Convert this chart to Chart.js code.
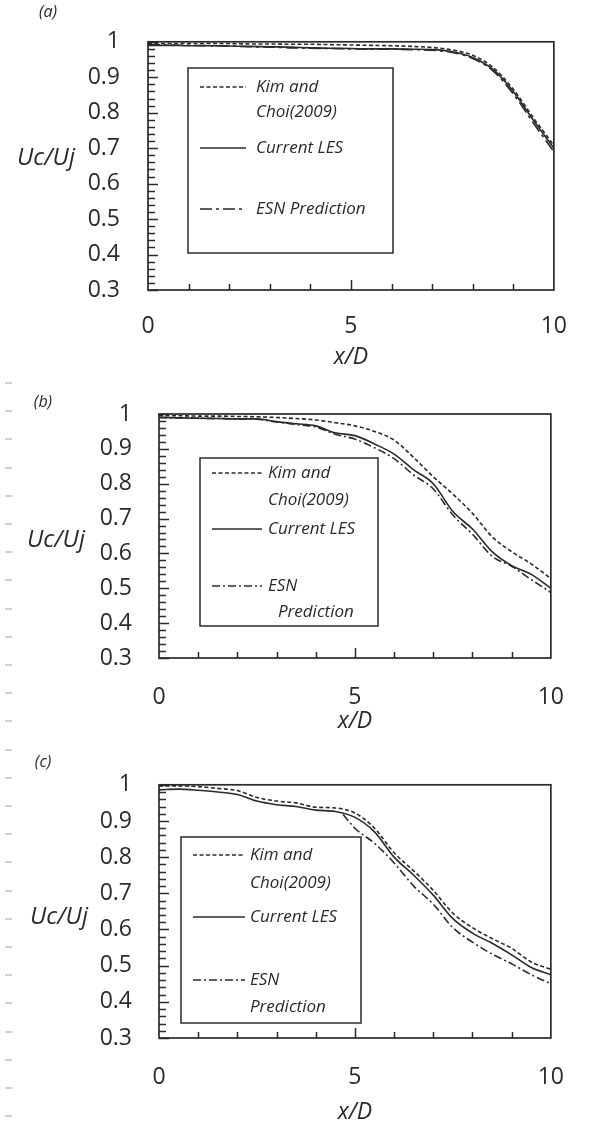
<!DOCTYPE html>
<html>
<head>
<meta charset="utf-8">
<script src="https://cdn.jsdelivr.net/npm/chart.js@4.4.0/dist/chart.umd.min.js"></script>
<style>
  body { margin: 0; background: #fff; width: 590px; height: 1128px; position: relative; overflow: hidden; }
  canvas { position: absolute; left: 0; }
  #margin { position: absolute; left: 5px; top: 382px; width: 7px; height: 740px;
    background: repeating-linear-gradient(to bottom, #d0d0d0 0 2px, transparent 2px 28.2px); }
</style>
</head>
<body>
<div id="margin"></div>
<canvas id="pa" width="590" height="372" style="top:0"></canvas>
<canvas id="pb" width="590" height="372" style="top:372px"></canvas>
<canvas id="pc" width="590" height="384" style="top:744px"></canvas>
<script>
// axis ticks
var yTicks = [0.3, 0.4, 0.5, 0.6, 0.7, 0.8, 0.9, 1];
var xLabelTicks = [0, 5, 10];
var xMinorTicks = [1, 2, 3, 4, 5, 6, 7, 8, 9];

var seriesNames = ["Kim and Choi(2009)", "Current LES", "ESN Prediction"];

// streamwise stations x/D
var xs = [0, 0.5, 1, 1.5, 2, 2.5, 3, 3.5, 4, 4.5, 5, 5.5, 6, 6.5, 7, 7.5, 8, 8.5, 9, 9.5, 10];

// (a)
var kimA = [0.995, 0.995, 0.995, 0.995, 0.995, 0.994, 0.994, 0.993, 0.993, 0.992, 0.991, 0.990, 0.989, 0.987, 0.984, 0.977, 0.962, 0.928, 0.866, 0.785, 0.708];
var lesA = [0.990, 0.990, 0.989, 0.989, 0.988, 0.987, 0.986, 0.985, 0.983, 0.982, 0.981, 0.980, 0.980, 0.979, 0.978, 0.972, 0.956, 0.922, 0.860, 0.778, 0.700];
var esnA = [0.992, 0.991, 0.990, 0.989, 0.988, 0.986, 0.985, 0.983, 0.982, 0.981, 0.980, 0.979, 0.979, 0.978, 0.976, 0.970, 0.953, 0.918, 0.853, 0.770, 0.690];

// (b)
var kimB = [0.995, 0.995, 0.994, 0.994, 0.993, 0.992, 0.990, 0.987, 0.983, 0.975, 0.966, 0.950, 0.925, 0.875, 0.820, 0.770, 0.715, 0.648, 0.605, 0.570, 0.528];
var lesB = [0.990, 0.989, 0.988, 0.987, 0.986, 0.986, 0.978, 0.972, 0.966, 0.946, 0.938, 0.914, 0.885, 0.840, 0.800, 0.720, 0.670, 0.605, 0.565, 0.540, 0.500];
var esnB = [0.990, 0.989, 0.988, 0.987, 0.986, 0.985, 0.977, 0.970, 0.963, 0.942, 0.928, 0.903, 0.872, 0.825, 0.785, 0.710, 0.655, 0.592, 0.563, 0.525, 0.488];

// (c)
var kimC = [0.997, 0.997, 0.995, 0.990, 0.984, 0.965, 0.955, 0.950, 0.938, 0.936, 0.922, 0.880, 0.812, 0.762, 0.708, 0.645, 0.605, 0.575, 0.548, 0.510, 0.490];
var lesC = [0.986, 0.988, 0.985, 0.980, 0.973, 0.955, 0.945, 0.940, 0.930, 0.926, 0.910, 0.870, 0.800, 0.750, 0.695, 0.630, 0.590, 0.562, 0.530, 0.495, 0.475];
var xsEsnC = [4.7, 5, 5.5, 6, 6.5, 7, 7.5, 8, 8.5, 9, 9.5, 10];
var esnC = [0.918, 0.880, 0.838, 0.784, 0.720, 0.670, 0.605, 0.565, 0.532, 0.505, 0.475, 0.450];

var ink = "#2a2a2a";
Chart.defaults.font.family = "'Open Sans', sans-serif";
Chart.defaults.color = ink;

function pts(x, y) {
  return x.map(function (v, i) { return { x: v, y: y[i] }; });
}

// frame, inward ticks, legend box and side labels
var framePlugin = {
  id: "frame",
  afterDraw: function (chart, args, o) {
    var ctx = chart.ctx, a = chart.chartArea;
    var sx = chart.scales.x, sy = chart.scales.y;
    ctx.save();
    ctx.strokeStyle = ink;
    ctx.lineWidth = 1.5;
    // minor ticks every 0.02 on the left edge
    for (var k = 0; k <= 35; k++) {
      var y = Math.round(sy.getPixelForValue(0.3 + k * 0.02)) + 0.5;
      var len = k % 5 === 0 ? 10 : 7;
      ctx.beginPath();
      ctx.moveTo(a.left, y);
      ctx.lineTo(a.left + len, y);
      ctx.stroke();
    }
    xMinorTicks.forEach(function (v) {
      var x = Math.round(sx.getPixelForValue(v)) + 0.5;
      ctx.beginPath();
      ctx.moveTo(x, a.bottom);
      ctx.lineTo(x, a.bottom - (v % 5 === 0 ? 10 : 6));
      ctx.stroke();
    });
    ctx.lineWidth = 1.7;
    ctx.strokeRect(a.left, a.top, a.right - a.left, a.bottom - a.top);

    // legend
    var lg = o.legend;
    ctx.lineWidth = 1.5;
    ctx.strokeRect(lg.box[0], lg.box[1], lg.box[2] - lg.box[0], lg.box[3] - lg.box[1]);
    ctx.font = "italic 17px 'Open Sans', sans-serif";
    ctx.fillStyle = ink;
    ctx.textBaseline = "middle";
    ctx.textAlign = "left";
    lg.rows.forEach(function (r) {
      if (r.ds !== undefined) {
        var ds = chart.data.datasets[r.ds];
        ctx.save();
        ctx.lineWidth = ds.borderWidth;
        ctx.setLineDash(ds.borderDash || []);
        ctx.beginPath();
        ctx.moveTo(lg.sample[0], r.y);
        ctx.lineTo(lg.sample[1], r.y);
        ctx.stroke();
        ctx.restore();
      }
      ctx.fillText(r.text, r.x, r.y);
    });

    ctx.textAlign = "center";
    ctx.font = "italic 16px 'Open Sans', sans-serif";
    ctx.fillText(o.tag.text, o.tag.x, o.tag.y);
    ctx.font = "italic 24px 'Open Sans', sans-serif";
    ctx.fillText("Uc/Uj", o.yTitle.x, o.yTitle.y);
    ctx.restore();
  }
};

function makePanel(id, sets, lay) {
  var cv = document.getElementById(id);
  var H = cv.height, W = cv.width;
  var titleFont = 23;
  new Chart(cv, {
    type: "line",
    data: {
      datasets: [
        { label: seriesNames[0], data: sets[0], borderDash: [4, 2.5] },
        { label: seriesNames[1], data: sets[1] },
        { label: seriesNames[2], data: sets[2], borderDash: lay.esnDash }
      ].map(function (d) {
        d.borderColor = ink;
        d.borderWidth = 1.6;
        d.pointRadius = 0;
        d.fill = false;
        d.cubicInterpolationMode = "monotone";
        return d;
      })
    },
    options: {
      responsive: false,
      animation: false,
      devicePixelRatio: 1,
      layout: { padding: { left: 0, top: lay.area[1], right: W - lay.area[2], bottom: 0 } },
      plugins: {
        legend: { display: false },
        tooltip: { enabled: false },
        frame: { legend: lay.legend, tag: lay.tag, yTitle: lay.yTitle }
      },
      scales: {
        x: {
          type: "linear",
          min: 0, max: 10,
          grid: { display: false, drawTicks: false },
          border: { display: false },
          afterBuildTicks: function (s) { s.ticks = xLabelTicks.map(function (v) { return { value: v }; }); },
          afterFit: function (s) { s.height = H - lay.area[3]; },
          ticks: { autoSkip: false, maxRotation: 0, padding: lay.xPad, font: { size: 23 }, color: ink },
          title: {
            display: true, text: "x/D", color: ink,
            font: { size: titleFont, style: "italic" },
            padding: { top: 0, bottom: H - lay.xTitleY - titleFont * 0.6 }
          }
        },
        y: {
          min: 0.3, max: 1,
          grid: { display: false, drawTicks: false },
          border: { display: false },
          afterBuildTicks: function (s) { s.ticks = yTicks.map(function (v) { return { value: v }; }); },
          afterFit: function (s) { s.width = lay.area[0]; },
          ticks: {
            padding: lay.yPad, font: { size: 23 }, color: ink,
            callback: function (v) { return v > 0.999 ? "1" : v.toFixed(1); }
          }
        }
      }
    },
    plugins: [framePlugin]
  });
}

makePanel("pa", [pts(xs, kimA), pts(xs, lesA), pts(xs, esnA)], {
  area: [148, 22, 562, 290], xPad: 23, yPad: 28, xTitleY: 357, esnDash: [12, 4, 3, 4],
  tag: { text: "(a)", x: 48, y: 12 },
  yTitle: { x: 46, y: 158 },
  legend: {
    box: [188, 68, 393, 253], sample: [200, 246],
    rows: [
      { text: "Kim and", x: 256, y: 87, ds: 0 },
      { text: "Choi(2009)", x: 256, y: 112 },
      { text: "Current LES", x: 256, y: 148, ds: 1 },
      { text: "ESN Prediction", x: 256, y: 209, ds: 2 }
    ]
  }
});

makePanel("pb", [pts(xs, kimB), pts(xs, lesB), pts(xs, esnB)], {
  area: [159, 42, 574, 286], xPad: 26, yPad: 27, xTitleY: 349, esnDash: [8, 3, 2, 3],
  tag: { text: "(b)", x: 43, y: 30 },
  yTitle: { x: 56, y: 168 },
  legend: {
    box: [200, 86, 378, 254], sample: [212, 262],
    rows: [
      { text: "Kim and", x: 268, y: 101, ds: 0 },
      { text: "Choi(2009)", x: 268, y: 128 },
      { text: "Current LES", x: 268, y: 157, ds: 1 },
      { text: "ESN", x: 268, y: 214, ds: 2 },
      { text: "Prediction", x: 278, y: 240 }
    ]
  }
});

makePanel("pc", [pts(xs, kimC), pts(xs, lesC), pts(xsEsnC, esnC)], {
  area: [159, 18, 576, 294], xPad: 26, yPad: 27, xTitleY: 368, esnDash: [8, 3, 2, 3],
  tag: { text: "(c)", x: 43, y: 18 },
  yTitle: { x: 59, y: 173 },
  legend: {
    box: [181, 93, 361, 279], sample: [193, 245],
    rows: [
      { text: "Kim and", x: 250, y: 111, ds: 0 },
      { text: "Choi(2009)", x: 250, y: 139 },
      { text: "Current LES", x: 250, y: 173, ds: 1 },
      { text: "ESN", x: 250, y: 236, ds: 2 },
      { text: "Prediction", x: 250, y: 263 }
    ]
  }
});
</script>
</body>
</html>
